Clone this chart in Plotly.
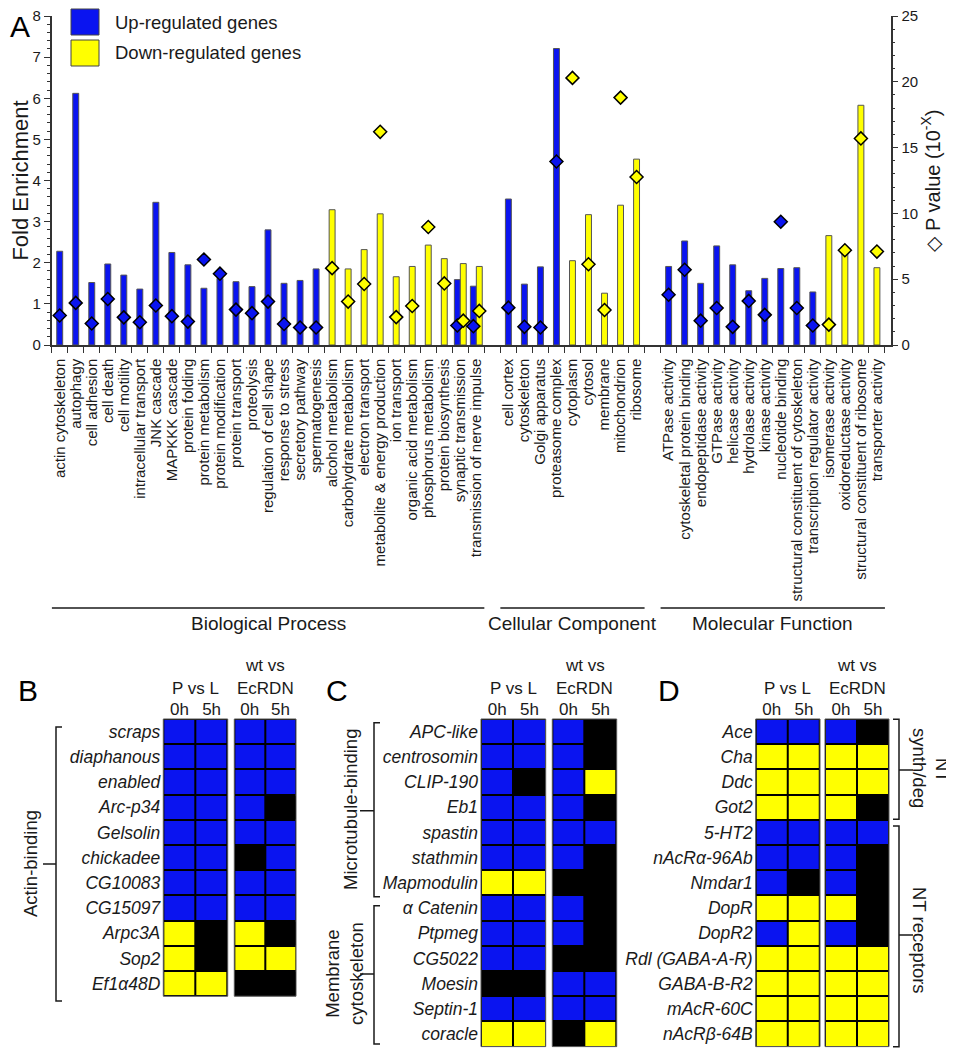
import plotly.graph_objects as go

FONT = "Liberation Sans, Arial, Helvetica, sans-serif"
TXT = "#1a1a1a"
BLUE = "#0A14F0"
YELLOW = "#FFFF00"
PAGE_OFF = 8          # default page margin around the plot div
W, H = 954 - PAGE_OFF, 1050 - PAGE_OFF

# ---------------- Panel A data ----------------
group_names = ["Biological Process", "Cellular Component", "Molecular Function"]
bp_terms = ["actin cytoskeleton", "autophagy", "cell adhesion", "cell death", "cell motility",
            "intracellular transport", "JNK cascade", "MAPKKK cascade", "protein folding",
            "protein metabolism", "protein modification", "protein transport", "proteolysis",
            "regulation of cell shape", "response to stress", "secretory pathway", "spermatogenesis",
            "alcohol metabolism", "carbohydrate metabolism", "electron transport",
            "metabolite & energy production", "ion transport", "organic acid metabolism",
            "phosphorus metabolism", "protein biosynthesis", "synaptic transmission",
            "transmission of nerve impulse"]
cc_terms = ["cell cortex", "cytoskeleton", "Golgi apparatus", "proteasome complex", "cytoplasm",
            "cytosol", "membrane", "mitochondrion", "ribosome"]
mf_terms = ["ATPase activity", "cytoskeletal protein binding", "endopeptidase activity",
            "GTPase activity", "helicase activity", "hydrolase activity", "kinase activity",
            "nucleotide binding", "structural constituent of cytoskeleton",
            "transcription regulator activity", "isomerase activity", "oxidoreductase activity",
            "structural constituent of ribosome", "transporter activity"]

N = None
bp_up_fold = [2.28, 6.12, 1.52, 1.97, 1.70, 1.36, 3.47, 2.25, 1.95, 1.38, 1.62, 1.54, 1.42, 2.80,
              1.50, 1.57, 1.85, N, N, N, N, N, N, N, N, 1.59, 1.43]
bp_down_fold = [N] * 17 + [3.29, 1.85, 2.32, 3.19, 1.66, 1.91, 2.43, 2.10, 1.98, 1.91]
bp_up_p = [2.24, 3.2, 1.63, 3.5, 2.1, 1.73, 3.0, 2.19, 1.78, 6.5, 5.42, 2.69, 2.42, 3.3, 1.6,
           1.33, 1.33, N, N, N, N, N, N, N, N, 1.48, 1.43]
bp_down_p = [N] * 17 + [5.84, 3.30, 4.64, 16.2, 2.12, 2.96, 8.97, 4.68, 1.85, 2.59]

cc_up_fold = [3.55, 1.48, 1.90, 7.21, N, N, N, N, N]
cc_down_fold = [N, N, N, N, 2.05, 3.17, 1.26, 3.40, 4.52]
cc_up_p = [2.84, 1.38, 1.33, 13.95, N, N, N, N, N]
cc_down_p = [N, N, N, N, 20.3, 6.14, 2.66, 18.8, 12.77]

mf_up_fold = [1.91, 2.53, 1.50, 2.41, 1.95, 1.32, 1.62, 1.86, 1.88, 1.29, N, N, N, N]
mf_down_fold = [N] * 10 + [2.66, 2.30, 5.83, 1.88]
mf_up_p = [3.82, 5.72, 1.85, 2.81, 1.38, 3.35, 2.29, 9.37, 2.81, 1.48, N, N, N, N]
mf_down_p = [N] * 10 + [1.55, 7.2, 15.7, 7.1]

# ---------------- Heatmap data (1 = up, -1 = down, 0 = n.s.) ----------------
col_labels = ["0h", "5h"]
B_genes = ["scraps", "diaphanous", "enabled", "Arc-p34", "Gelsolin", "chickadee", "CG10083",
           "CG15097", "Arpc3A", "Sop2", "Ef1α48D"]
B_pvl = [[1, 1], [1, 1], [1, 1], [1, 1], [1, 1], [1, 1], [1, 1], [1, 1], [-1, 0], [-1, 0], [-1, -1]]
B_wt = [[1, 1], [1, 1], [1, 1], [1, 0], [1, 1], [0, 1], [1, 1], [1, 1], [-1, 0], [-1, -1], [0, 0]]

C_genes = ["APC-like", "centrosomin", "CLIP-190", "Eb1", "spastin", "stathmin", "Mapmodulin",
           "α Catenin", "Ptpmeg", "CG5022", "Moesin", "Septin-1", "coracle"]
C_pvl = [[1, 1], [1, 1], [1, 0], [1, 1], [1, 1], [1, 1], [-1, -1], [1, 1], [1, 1], [1, 1], [0, 0],
         [1, 1], [-1, -1]]
C_wt = [[1, 0], [1, 0], [1, -1], [1, 0], [1, 1], [1, 0], [0, 0], [1, 0], [1, 0], [0, 0], [1, 1],
        [1, 1], [0, -1]]

D_genes = ["Ace", "Cha", "Ddc", "Got2", "5-HT2", "nAcRα-96Ab", "Nmdar1", "DopR", "DopR2",
           "Rdl (GABA-A-R)", "GABA-B-R2", "mAcR-60C", "nAcRβ-64B"]
D_pvl = [[1, 1], [-1, -1], [-1, -1], [-1, -1], [1, 1], [1, 1], [1, 0], [-1, -1], [1, -1],
         [-1, -1], [-1, -1], [-1, -1], [-1, -1]]
D_wt = [[1, 0], [-1, -1], [-1, -1], [-1, 0], [1, 1], [1, 0], [1, 0], [-1, 0], [1, 0],
        [-1, -1], [-1, -1], [-1, -1], [-1, -1]]


def px(v):
    return min(1.0, max(0.0, (v - PAGE_OFF) / W))


def py(v):
    return min(1.0, max(0.0, 1 - (v - PAGE_OFF) / H))


fig = go.Figure()

# ---------------- Panel A ----------------
groups = [(bp_terms, bp_up_fold, bp_down_fold, bp_up_p, bp_down_p),
          (cc_terms, cc_up_fold, cc_down_fold, cc_up_p, cc_down_p),
          (mf_terms, mf_up_fold, mf_down_fold, mf_up_p, mf_down_p)]
BW = 0.37
slots, terms, upf, dnf, upp, dnp, spans = [], [], [], [], [], [], []
start = 0
for t, uf, df, up_, dp in groups:
    pos = [start + i for i in range(len(t))]
    spans.append((pos[0] - 0.5, pos[-1] + 0.5))
    slots += pos; terms += t; upf += uf; dnf += df; upp += up_; dnp += dp
    start += len(t) + 1
n_slots = start - 1

ux, uy, uo, ucx, upy = [], [], [], [], []
dx, dy, do, dcx, dpy = [], [], [], [], []
for s, u, d, pu, pd in zip(slots, upf, dnf, upp, dnp):
    both = u is not None and d is not None
    if u is not None:
        off = -BW if both else -BW / 2
        ux.append(s); uy.append(u); uo.append(off); ucx.append(s + off + BW / 2); upy.append(pu)
    if d is not None:
        off = 0 if both else -BW / 2
        dx.append(s); dy.append(d); do.append(off); dcx.append(s + off + BW / 2); dpy.append(pd)

fig.add_trace(go.Bar(x=ux, y=uy, offset=uo, width=BW, marker=dict(color=BLUE, line=dict(color="#555", width=1)),
                     name="Up-regulated genes", showlegend=False, xaxis="x", yaxis="y"))
fig.add_trace(go.Bar(x=dx, y=dy, offset=do, width=BW, marker=dict(color=YELLOW, line=dict(color="#555", width=1)),
                     name="Down-regulated genes", showlegend=False, xaxis="x", yaxis="y"))
fig.add_trace(go.Scatter(x=ucx, y=upy, mode="markers", xaxis="x", yaxis="y2", showlegend=False,
                         marker=dict(symbol="diamond", size=10, color=BLUE, line=dict(color="black", width=1.5))))
fig.add_trace(go.Scatter(x=dcx, y=dpy, mode="markers", xaxis="x", yaxis="y2", showlegend=False,
                         marker=dict(symbol="diamond", size=10, color=YELLOW, line=dict(color="black", width=1.5))))

boundaries = [i - 0.5 for i in range(n_slots + 1)]
axis_col = "#333"
A_TOP = 16
fig.update_layout(
    xaxis=dict(domain=[px(51.7), px(890.7)], range=[-0.5, n_slots - 0.5 + 0.36], anchor="y",
               tickmode="array", tickvals=slots, ticktext=terms, tickangle=-90, ticks="",
               tickfont=dict(size=15, color=TXT, family=FONT), ticklabelstandoff=6,
               showline=True, linecolor=axis_col, linewidth=1.5, showgrid=False, zeroline=False,
               minor=dict(tickmode="array", tickvals=boundaries, ticks="outside", ticklen=6,
                          tickcolor=axis_col, tickwidth=1, showgrid=False),
               automargin=False),
    yaxis=dict(domain=[py(345), py(A_TOP)], range=[0, 8.001], anchor="x", tickmode="array",
               tickvals=list(range(9)), ticks="outside", ticklabeloverflow="allow",
               ticklen=6, tickcolor=axis_col, showline=True, linecolor=axis_col, linewidth=1.5,
               showgrid=False, zeroline=False, tickfont=dict(size=15, color=TXT, family=FONT),
               minor=dict(dtick=0.2, tick0=0, ticks="outside", ticklen=3, tickcolor=axis_col, showgrid=False),
               title=dict(text="Fold Enrichment", font=dict(size=22, color=TXT, family=FONT), standoff=8),
               automargin=False),
    yaxis2=dict(overlaying="y", side="right", anchor="x", range=[0, 25.003], tickmode="array",
                tickvals=[0, 5, 10, 15, 20, 25], ticks="outside", ticklabeloverflow="allow",
                ticklen=6, tickcolor=axis_col, showline=True, linecolor=axis_col, linewidth=1.5,
                showgrid=False, zeroline=False, tickfont=dict(size=15, color=TXT, family=FONT),
                minor=dict(dtick=1, tick0=0, ticks="outside", ticklen=3, tickcolor=axis_col, showgrid=False),
                title=dict(text="◇ P value (10<sup>-X</sup>)", font=dict(size=20, color=TXT, family=FONT),
                           standoff=8),
                automargin=False),
)

shapes = []
annotations = []

# legend (manual)
for (y0, y1, col, label) in [(9, 35, BLUE, "Up-regulated genes"), (40, 66, YELLOW, "Down-regulated genes")]:
    shapes.append(dict(type="rect", xref="paper", yref="paper", x0=px(71), x1=px(99), y0=py(y1), y1=py(y0),
                       fillcolor=col, line=dict(color="#444", width=1)))
    annotations.append(dict(text=label, xref="paper", yref="paper", x=px(113), y=py((y0 + y1) / 2),
                            xanchor="left", yanchor="middle", showarrow=False,
                            font=dict(size=18.5, color=TXT, family=FONT)))

# group lines + labels
for (x0, x1), name in zip(spans, group_names):
    shapes.append(dict(type="line", xref="x", yref="paper", x0=x0, x1=x1, y0=py(608), y1=py(608),
                       line=dict(color=TXT, width=1.5)))
    annotations.append(dict(text=name, xref="x", yref="paper", x=(x0 + x1) / 2, y=py(623),
                            xanchor="center", yanchor="middle", showarrow=False,
                            font=dict(size=19, color=TXT, family=FONT)))

# panel letters
annotations.append(dict(text="A", xref="paper", yref="paper", x=px(8), y=1.0, xanchor="left",
                        yanchor="top", showarrow=False,
                        font=dict(size=30, color="black", family=FONT)))
for letter, x, y in [("B", 16, 690), ("C", 324, 690), ("D", 656, 690)]:
    annotations.append(dict(text=letter, xref="paper", yref="paper", x=px(x), y=py(y), xanchor="left",
                            yanchor="middle", showarrow=False, font=dict(size=30, color="black", family=FONT)))

# ---------------- Heatmaps ----------------
cs = [[0, YELLOW], [0.5, "black"], [1, BLUE]]
row_top, row_h = 719, 25.2
blocks = [
    (B_genes, B_pvl, (163.3, 227.7), True),
    (B_genes, B_wt, (234.3, 296.0), False),
    (C_genes, C_pvl, (481.0, 545.7), True),
    (C_genes, C_wt, (552.3, 616.7), False),
    (D_genes, D_pvl, (755.7, 820.0), True),
    (D_genes, D_wt, (825.0, 889.0), False),
]
for k, (genes, z, (xl, xr), labels) in enumerate(blocks):
    ax = k + 3
    n = len(genes)
    yb = row_top + n * row_h
    fig.add_trace(go.Heatmap(z=z, x=[0, 1], y=list(range(n)), colorscale=cs, zmin=-1, zmax=1,
                             showscale=False, xgap=2, ygap=2, xaxis=f"x{ax}", yaxis=f"y{ax}",
                             hoverinfo="skip"))
    fig.layout[f"xaxis{ax}"] = dict(domain=[px(xl), px(xr)], anchor=f"y{ax}", range=[-0.5, 1.5],
                                    side="top", tickmode="array", tickvals=[0, 1], ticktext=col_labels,
                                    ticks="", showgrid=False, zeroline=False, showline=False,
                                    tickfont=dict(size=17, color=TXT, family=FONT), ticklabelstandoff=0,
                                    automargin=False, fixedrange=True)
    fig.layout[f"yaxis{ax}"] = dict(domain=[py(yb), py(row_top)], anchor=f"x{ax}", range=[n - 0.5, -0.5],
                                    tickmode="array", tickvals=list(range(n)),
                                    ticktext=[f"<i>{g}</i>" for g in genes], showticklabels=labels,
                                    ticks="", showgrid=False, zeroline=False, showline=False,
                                    tickfont=dict(size=17.5, color=TXT, family=FONT), ticklabelstandoff=2,
                                    automargin=False, fixedrange=True)
    shapes.append(dict(type="rect", xref=f"x{ax} domain", yref=f"y{ax} domain", x0=0, x1=1, y0=0, y1=1,
                       fillcolor="black", line=dict(color="#555", width=1), layer="below"))
    cx = (xl + xr) / 2
    if labels:
        annotations.append(dict(text="P vs L", xref="paper", yref="paper", x=px(cx), y=py(688),
                                xanchor="center", yanchor="middle", showarrow=False,
                                font=dict(size=17, color=TXT, family=FONT)))
    else:
        annotations.append(dict(text="wt vs", xref="paper", yref="paper", x=px(cx), y=py(665),
                                xanchor="center", yanchor="middle", showarrow=False,
                                font=dict(size=17, color=TXT, family=FONT)))
        annotations.append(dict(text="EcRDN", xref="paper", yref="paper", x=px(cx), y=py(688),
                                xanchor="center", yanchor="middle", showarrow=False,
                                font=dict(size=17, color=TXT, family=FONT)))


def bracket(xv, y0, y1, end_dx, mid_y, mid_dx):
    path = (f"M {px(xv + end_dx)},{py(y0)} L {px(xv)},{py(y0)} L {px(xv)},{py(y1)} "
            f"L {px(xv + end_dx)},{py(y1)} M {px(xv)},{py(mid_y)} L {px(xv + mid_dx)},{py(mid_y)}")
    return dict(type="path", xref="paper", yref="paper", path=path, line=dict(color=TXT, width=1.5))


shapes.append(bracket(56, 727, 1001, 6, 864, -13))
shapes.append(bracket(374, 722.7, 896.7, 6, 810.7, -14))
shapes.append(bracket(374, 905.7, 1044, 6, 974, -14))
shapes.append(bracket(899, 719.3, 819.3, -6, 770, 14))
shapes.append(bracket(899, 826, 1046.7, -6, 935, 14))

side_labels = [("Actin-binding", 30, 864, -90), ("Microtubule-binding", 350, 810, -90),
               ("Membrane<br>cytoskeleton", 344, 974, -90), ("NT", 943, 770, 90),
               ("synth/deg", 920, 768, 90), ("NT receptors", 920, 940, 90)]
for text, x, y, ang in side_labels:
    annotations.append(dict(text=text, xref="paper", yref="paper", x=px(x), y=py(y), xanchor="center",
                            yanchor="middle", showarrow=False, textangle=ang,
                            font=dict(size=18.5, color=TXT, family=FONT)))

fig.update_layout(width=W, height=H, autosize=False, margin=dict(l=0, r=0, t=0, b=0),
                  paper_bgcolor="white", plot_bgcolor="white", barmode="overlay",
                  shapes=shapes, annotations=annotations, font=dict(family=FONT, color=TXT))
fig.write_html("out.html")
